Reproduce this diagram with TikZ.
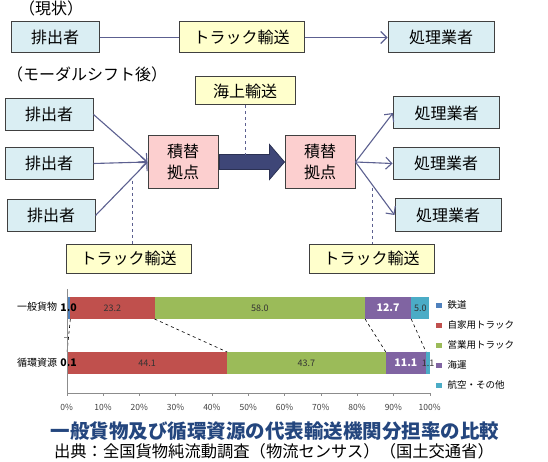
\documentclass[tikz,border=0pt]{standalone}
\usepackage{fontspec}
\setmainfont{Noto Sans CJK JP}
\usetikzlibrary{arrows.meta,calc}

\definecolor{boxblue}{HTML}{DAEEF3}
\definecolor{boxyellow}{HTML}{FFFFCC}
\definecolor{boxpink}{HTML}{FCCFCF}
\definecolor{linegray}{HTML}{5C6090}
\definecolor{seablue}{HTML}{3E4677}
\definecolor{railblue}{HTML}{4F81BD}
\definecolor{ownred}{HTML}{C0504D}
\definecolor{bizgreen}{HTML}{9BBB59}
\definecolor{shippurple}{HTML}{8064A2}
\definecolor{aircyan}{HTML}{4BACC6}
\definecolor{titleblue}{HTML}{24467E}

\begin{document}
\begin{tikzpicture}[x=1pt, y=-1pt,
    box/.style={draw=black!75, line width=1pt, inner sep=0pt, font=\fontsize{16}{18}\selectfont},
    party/.style={box, fill=boxblue, minimum width=88pt, minimum height=32pt},
    firm/.style={box, fill=boxblue, minimum width=106pt, minimum height=32pt},
    truck/.style={box, fill=boxyellow, minimum width=125pt, minimum height=29pt},
    hub/.style={box, fill=boxpink, minimum width=70pt, minimum height=53pt, align=center, font=\fontsize{16}{21}\selectfont},
    flow/.style={draw=linegray, line width=1.1pt},
    dashline/.style={draw=linegray, dashed, line width=0.6pt},
    heading/.style={font=\fontsize{16}{18}\selectfont},
    barsmall/.style={font=\fontsize{9}{10}\selectfont, text=black!80},
    barbold/.style={font=\bfseries\fontsize{10.5}{11}\selectfont, text=black},
    barwhite/.style={font=\bfseries\fontsize{10.5}{11}\selectfont, text=white},
    legend/.style={anchor=west, font=\fontsize{9.5}{10}\selectfont},
    >={Straight Barb[length=6pt,width=12pt]}]
    \useasboundingbox (0,0) rectangle (548,462);

    % Current flow
    \node[heading] (now) at (51,8) {（現状）};
    \node[party, minimum height=31pt] (ex0) at (55,37.5) {排出者};
    \node[truck, minimum height=31pt] (tr0) at (241.5,37.5) {トラック輸送};
    \node[firm, minimum height=31pt] (pr0) at (441,37.5) {処理業者};
    \draw[flow] (ex0) -- (tr0);
    \draw[flow, ->] (tr0) -- (pr0);

    % Flow after the modal shift
    \node[heading] (after) at (87,74) {（モーダルシフト後）};
    \node[box, fill=boxyellow, minimum width=100pt, minimum height=28pt] (sea) at (245,91) {海上輸送};
    \node[party] (ex1) at (49,114.5) {排出者};
    \node[party] (ex2) at (49,163.5) {排出者};
    \node[party] (ex3) at (51,215.5) {排出者};
    \node[hub] (hubL) at (183,162) {積替\\拠点};
    \node[hub] (hubR) at (320,162) {積替\\拠点};
    \node[firm] (pr1) at (446.5,113) {処理業者};
    \node[firm] (pr2) at (446,163.5) {処理業者};
    \node[firm] (pr3) at (448,215) {処理業者};
    \node[truck] (trL) at (128.5,258.5) {トラック輸送};
    \node[truck] (trR) at (371.5,258.5) {トラック輸送};

    \foreach \n in {ex1,ex2,ex3}
        \draw[flow, ->] (\n.east) -- (hubL.west);
    \foreach \n in {pr1,pr2,pr3}
        \draw[flow, ->] (hubR.east) -- (\n.west);

    % Sea transport arrow
    \draw[fill=seablue, draw=seablue!70!black, line width=0.8pt]
        ($(hubL.east)+(1,-7.5)$) -- ($(hubR.west)+(-15,-7.5)$) -- ($(hubR.west)+(-15,-17.5)$)
        -- (hubR.west) -- ($(hubR.west)+(-15,17.5)$) -- ($(hubR.west)+(-15,7.5)$)
        -- ($(hubL.east)+(1,7.5)$) -- cycle;

    % Dashed leader lines
    \draw[dashline] (sea.south) -- +(0,50);
    \coordinate (tapL) at (132,181);
    \coordinate (tapR) at (372,188);
    \draw[dashline] (tapL) -- (tapL |- trL.north);
    \draw[dashline] (tapR) -- (tapR |- trR.north);

    % Bar chart
    \node[font=\fontsize{10}{12}\selectfont] (rowA) at (37,307) {一般貨物};
    \node[font=\fontsize{10}{12}\selectfont] (rowB) at (37,363) {循環資源};
    \begin{scope}[xshift=66.7pt, x=3.63pt]
        \foreach \a/\b/\c in {0/1.0/railblue, 1.0/24.2/ownred, 24.2/82.2/bizgreen,
                82.2/94.9/shippurple, 94.9/99.9/aircyan}
            \fill[\c] (\a,297) rectangle (\b,319);
        \foreach \a/\b/\c in {0/0.1/railblue, 0.1/44.2/ownred, 44.2/87.9/bizgreen,
                87.9/99.0/shippurple, 99.0/100.1/aircyan}
            \fill[\c] (\a,352) rectangle (\b,374);
        \foreach \p/\q in {1.0/0.1, 24.2/44.2, 82.2/87.9, 94.9/99.0}
            \draw[dashed, line width=0.6pt] (\p,319) -- (\q,352);

        % Segment values
        \foreach \m/\v/\s in {0.5/1.0/barbold, 12.6/23.2/barsmall, 53.2/58.0/barsmall,
                88.55/12.7/barwhite, 97.4/5.0/barsmall}
            \node[\s] at (\m,308) {\v};
        \foreach \m/\v/\s in {0.5/0.1/barbold, 22.15/44.1/barsmall, 66.05/43.7/barsmall,
                93.45/11.1/barwhite, 99.55/1.1/barsmall}
            \node[\s] at (\m,363) {\v};

        % Axes
        \draw[black!45] (0,289) -- (0,393) -- (100,393);
        \draw[black!45] (0,337) -- (-0.8,337);
        \foreach \t in {0,10,...,100} {
            \draw[black!45] (\t,393) -- (\t,396);
            \node[font=\fontsize{8.5}{9}\selectfont, text=black!75] at (\t,407) {\t\%};
        }
    \end{scope}

    % Legend
    \foreach \y/\c/\t in {305/railblue/鉄道, 325/ownred/自家用トラック, 345/bizgreen/営業用トラック,
            365/shippurple/海運, 385/aircyan/航空・その他} {
        \fill[\c] (436,\y-2.5) rectangle ++(5.5,5.5);
        \node[legend] at (444,\y) {\t};
    }

    % Caption
    \node[font=\bfseries\fontsize{19.5}{22}\selectfont, text=titleblue] (title) at (275,431)
        {一般貨物及び循環資源の代表輸送機関分担率の比較};
    \node[font=\fontsize{16.3}{18}\selectfont] (source) at (274,451)
        {出典：全国貨物純流動調査（物流センサス）（国土交通省）};
\end{tikzpicture}
\end{document}
